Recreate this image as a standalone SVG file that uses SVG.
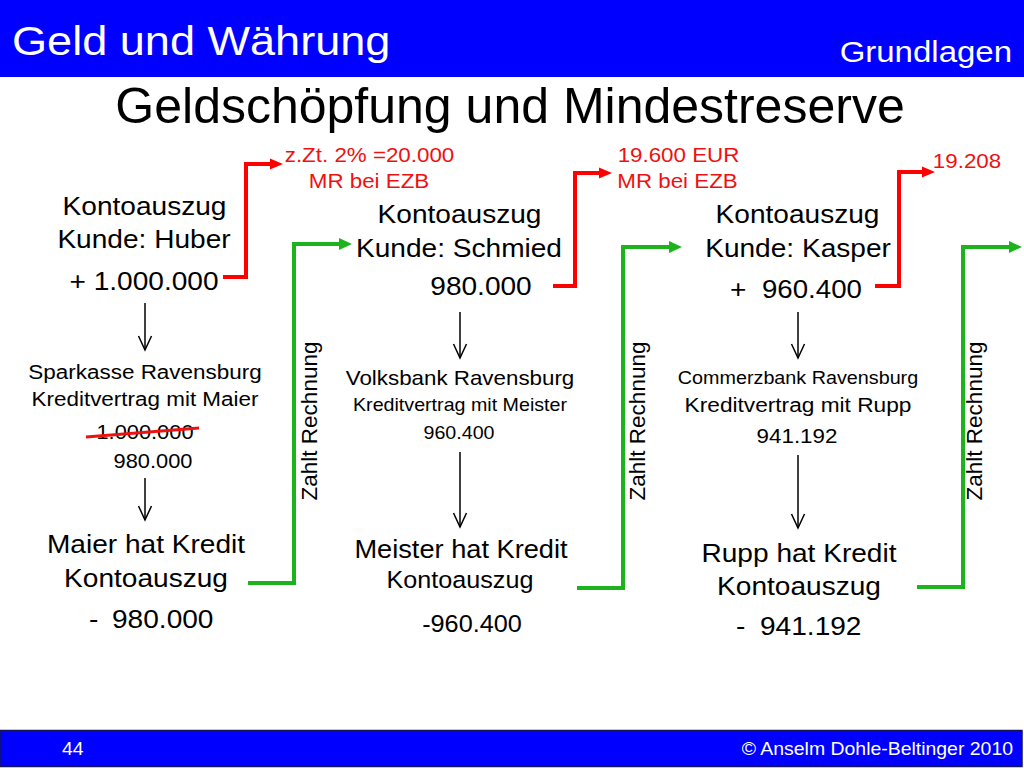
<svg xmlns="http://www.w3.org/2000/svg" width="1024" height="768" viewBox="0 0 1024 768">
<style>
.t{font-family:"Liberation Sans",Arial,Helvetica,sans-serif;fill:#000}
.c{text-anchor:middle}
.e{text-anchor:end}
.red{fill:#ee1111}
.w{fill:#fff}
.rl{fill:none;stroke:#ff0000;stroke-width:4;stroke-linejoin:miter}
.gl{fill:none;stroke:#1db31d;stroke-width:4;stroke-linejoin:miter}
.bl{fill:none;stroke:#000;stroke-width:1.5}
</style>
<defs>
<marker id="ar" markerUnits="userSpaceOnUse" viewBox="0 -6 13 12" markerWidth="13" markerHeight="12" refX="5" refY="0" orient="auto"><path d="M0,-5.5 L13,0 L0,5.5 z" fill="#ff0000"/></marker>
<marker id="ag" markerUnits="userSpaceOnUse" viewBox="0 -7 13 14" markerWidth="13" markerHeight="14" refX="5" refY="0" orient="auto"><path d="M0,-6 L13,0 L0,6 z" fill="#1db31d"/></marker>
<marker id="ab" markerUnits="userSpaceOnUse" viewBox="-1 -8 17 16" markerWidth="17" markerHeight="16" refX="14" refY="0" orient="auto"><path d="M0,-6.5 L14,0 L0,6.5" fill="none" stroke="#000" stroke-width="1.5"/></marker>
</defs>
<rect width="1024" height="768" fill="#fff"/>
<g id="header">
<rect x="0" y="0" width="1024" height="77" fill="#0000ff"/>
<text class="t w" font-size="41" transform="translate(12,55) scale(1.1,1)">Geld und Währung</text>
<text class="t w e" font-size="30" transform="translate(1012,62) scale(1.1,1)">Grundlagen</text>
</g>
<g id="title">
<text class="t c" font-size="50" transform="translate(510,123)">Geldschöpfung und Mindestreserve</text>
</g>
<g id="connectors">
<polyline class="rl" points="223,277 246,277 246,164 275,164" marker-end="url(#ar)"/>
<polyline class="rl" points="553,286 575,286 575,173 604,173" marker-end="url(#ar)"/>
<polyline class="rl" points="875,286 899,286 899,172 927,172" marker-end="url(#ar)"/>
<polyline class="gl" points="248,583 294,583 294,244 344,244" marker-end="url(#ag)"/>
<polyline class="gl" points="577,588 623,588 623,247 674,247" marker-end="url(#ag)"/>
<polyline class="gl" points="917,587 963,587 963,247 1014,247" marker-end="url(#ag)"/>
<line class="bl" x1="145" y1="303" x2="145" y2="350" marker-end="url(#ab)"/>
<line class="bl" x1="145" y1="478" x2="145" y2="520" marker-end="url(#ab)"/>
<line class="bl" x1="460" y1="312" x2="460" y2="358" marker-end="url(#ab)"/>
<line class="bl" x1="460" y1="452" x2="460" y2="527" marker-end="url(#ab)"/>
<line class="bl" x1="798" y1="312" x2="798" y2="358" marker-end="url(#ab)"/>
<line class="bl" x1="798" y1="455" x2="798" y2="528" marker-end="url(#ab)"/>
<text class="t c" font-size="22.5" transform="translate(317,421) rotate(-90)">Zahlt Rechnung</text>
<text class="t c" font-size="22.5" transform="translate(645,421) rotate(-90)">Zahlt Rechnung</text>
<text class="t c" font-size="22.5" transform="translate(982,421) rotate(-90)">Zahlt Rechnung</text>
</g>
<g id="mr1">
<text class="t c red" font-size="20.7" transform="translate(369.5,162) scale(1.08,1)">z.Zt. 2% =20.000</text>
<text class="t c red" font-size="20.7" transform="translate(369,188) scale(1.08,1)">MR bei EZB</text>
</g>
<g id="mr2">
<text class="t c red" font-size="20.7" transform="translate(678.5,162) scale(1.08,1)">19.600 EUR</text>
<text class="t c red" font-size="20.7" transform="translate(677.5,188) scale(1.08,1)">MR bei EZB</text>
</g>
<g id="mr3">
<text class="t c red" font-size="20.7" transform="translate(967,168) scale(1.08,1)">19.208</text>
</g>
<g id="huber">
<text class="t c" font-size="26" transform="translate(144.5,215) scale(1.08,1)">Kontoauszug</text>
<text class="t c" font-size="26" transform="translate(144,248) scale(1.08,1)">Kunde: Huber</text>
<text class="t c" font-size="26" transform="translate(144,290) scale(1.08,1)">+ 1.000.000</text>
</g>
<g id="sparkasse">
<text class="t c" font-size="20.8" transform="translate(145,379) scale(1.08,1)">Sparkasse Ravensburg</text>
<text class="t c" font-size="20.8" transform="translate(145,406) scale(1.08,1)">Kreditvertrag mit Maier</text>
<text class="t c" font-size="20.2" transform="translate(145,439) scale(1.08,1)">1.000.000</text>
<line x1="86" y1="437" x2="199" y2="428" stroke="#ee1111" stroke-width="3"/>
<text class="t c" font-size="20.2" transform="translate(153,468) scale(1.08,1)">980.000</text>
</g>
<g id="maier">
<text class="t c" font-size="26" transform="translate(146,553) scale(1.08,1)">Maier hat Kredit</text>
<text class="t c" font-size="26" transform="translate(146,587) scale(1.08,1)">Kontoauszug</text>
<text class="t" font-size="26" transform="translate(89,628) scale(1.08,1)">-</text>
<text class="t" font-size="26" transform="translate(112,628) scale(1.08,1)">980.000</text>
</g>
<g id="schmied">
<text class="t c" font-size="26" transform="translate(459.5,223) scale(1.08,1)">Kontoauszug</text>
<text class="t c" font-size="26" transform="translate(459,257) scale(1.08,1)">Kunde: Schmied</text>
<text class="t c" font-size="26" transform="translate(481,295) scale(1.08,1)">980.000</text>
</g>
<g id="volksbank">
<text class="t c" font-size="20.7" transform="translate(460,385) scale(1.08,1)">Volksbank Ravensburg</text>
<text class="t c" font-size="18.2" transform="translate(460,411) scale(1.08,1)">Kreditvertrag mit Meister</text>
<text class="t c" font-size="18.2" transform="translate(459,439) scale(1.08,1)">960.400</text>
</g>
<g id="meister">
<text class="t c" font-size="25.2" transform="translate(461,558) scale(1.08,1)">Meister hat Kredit</text>
<text class="t c" font-size="23.3" transform="translate(460,588) scale(1.08,1)">Kontoauszug</text>
<text class="t c" font-size="23.4" transform="translate(472,632) scale(1.08,1)">-960.400</text>
</g>
<g id="kasper">
<text class="t c" font-size="26" transform="translate(797.5,223) scale(1.08,1)">Kontoauszug</text>
<text class="t c" font-size="26" transform="translate(798,257) scale(1.08,1)">Kunde: Kasper</text>
<text class="t" font-size="26" transform="translate(730,298) scale(1.08,1)">+</text>
<text class="t" font-size="25.6" transform="translate(762,298) scale(1.08,1)">960.400</text>
</g>
<g id="commerzbank">
<text class="t c" font-size="18.3" transform="translate(798,384) scale(1.08,1)">Commerzbank Ravensburg</text>
<text class="t c" font-size="21" transform="translate(798,412) scale(1.08,1)">Kreditvertrag mit Rupp</text>
<text class="t c" font-size="20.7" transform="translate(797,443) scale(1.08,1)">941.192</text>
</g>
<g id="rupp">
<text class="t c" font-size="26" transform="translate(799,562) scale(1.08,1)">Rupp hat Kredit</text>
<text class="t c" font-size="26" transform="translate(799,595) scale(1.08,1)">Kontoauszug</text>
<text class="t" font-size="26" transform="translate(736,635) scale(1.08,1)">-</text>
<text class="t" font-size="26" transform="translate(760,635) scale(1.08,1)">941.192</text>
</g>
<g id="footer">
<rect x="0" y="730.5" width="1022" height="36" fill="#0000ff" stroke="#14145a" stroke-width="1.5"/>
<text class="t w" font-size="18" transform="translate(62,755) scale(1.08,1)">44</text>
<text class="t w e" font-size="18" transform="translate(1013,755) scale(1.08,1)">© Anselm Dohle-Beltinger 2010</text>
</g>
</svg>
